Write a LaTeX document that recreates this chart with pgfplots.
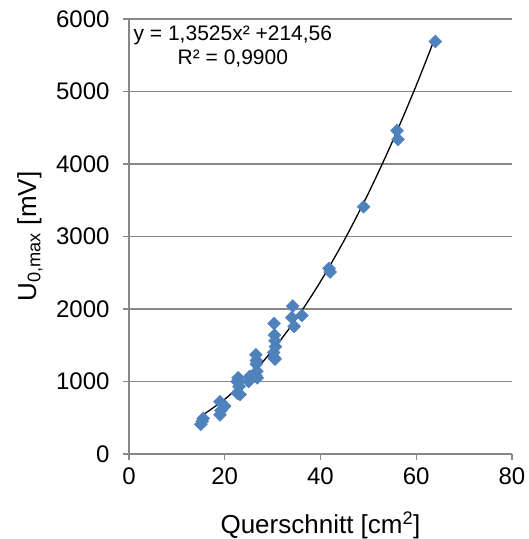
\documentclass[border=0pt]{standalone}
\usepackage{fontspec}
\setmainfont{Liberation Sans}
\usepackage{pgfplots}
\pgfplotsset{compat=1.18}
\definecolor{mk}{HTML}{4F81BD}
\definecolor{ax}{HTML}{878787}
\begin{document}
\begin{tikzpicture}
\useasboundingbox (-129pt,-85pt) rectangle (400pt,454pt);
\begin{axis}[
  at={(0,0)}, anchor=south west,
  scale only axis, width=383pt, height=435pt,
  xmin=0, xmax=80, ymin=0, ymax=6000,
  xtick={0,20,...,80}, ytick={0,1000,...,6000},
  axis x line*=bottom, axis y line*=left,
  ymajorgrids, grid style={ax, line width=1.2pt},
  axis line style={ax, line width=1.2pt},
  tick style={ax, line width=1.2pt}, tick align=outside, major tick length=6pt,
  ticklabel style={font=\fontsize{24}{28}\selectfont, black},
  yticklabel style={xshift=-10pt},
  xticklabel style={yshift=-4pt},
  /pgf/number format/assume math mode=true,
  /pgf/number format/1000 sep={},
  xlabel={Querschnitt [cm\textsuperscript{2}]},
  ylabel={U\textsubscript{0,max} [mV]},
  label style={font=\fontsize{26}{30}\selectfont},
  xlabel style={at={(axis description cs:0.5,0)}, anchor=center, yshift=-71pt},
  ylabel style={at={(axis description cs:0,0.5)}, anchor=center, yshift=99pt},
  clip=false,
]
\addplot[only marks, mark=square*, mark size=4.6pt, mark options={rotate=45, fill=mk, draw=mk}] coordinates {
(15,410) (15.3,450) (15.5,490) (19,720) (19.2,600) (20,660) (19,540)
(22.6,840) (22.8,1050) (23,930) (22.6,1000) (23.2,820) (25,1000) (25.2,1070)
(26.5,1370) (26.6,1290) (26.6,1240) (26.7,1140) (26.5,1080) (26.8,1050)
(30.3,1800) (30.4,1640) (30.5,1560) (30.6,1480) (30.2,1400) (30.3,1330) (30.5,1310)
(34.2,2040) (34,1880) (34.5,1760) (36.1,1910) (41.8,2560) (42,2510)
(49,3410) (56,4460) (56.2,4340) (64,5690)
};
\addplot[black, line width=1.3pt, smooth] coordinates {
(15,518.9) (20,755.6) (25,1059.9) (30,1431.8) (35,1871.4) (40,2378.6)
(45,2953.4) (50,3595.8) (55,4305.9) (60,5083.6) (64,5754.4)
};
\node[align=center, font=\fontsize{21}{24}\selectfont, inner sep=0pt] at (axis cs:21.7,5620)
  {y = 1,3525x² +214,56\\R² = 0,9900};
\end{axis}
\end{tikzpicture}
\end{document}
